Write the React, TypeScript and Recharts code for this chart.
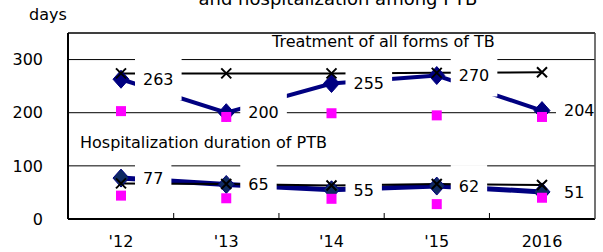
import { CartesianGrid, LabelList, Line, LineChart, XAxis, YAxis } from 'recharts'

const years = ["'12", "'13", "'14", "'15", '2016']
const treatAll = [263, 200, 255, 270, 204]
const treatAllRef = [274, 274, 274, 275, 276]
const treatAllPink = [203, 192, 199, 195, 192]
const hospPtb = [77, 65, 55, 62, 51]
const hospPtbRef = [67, 66, 63, 66, 64]
const hospPtbPink = [44, 39, 38, 28, 40]
const yTicks = [0, 100, 200, 300]

const data = years.map((year, i) => ({
  year,
  treatAll: treatAll[i],
  treatAllRef: treatAllRef[i],
  treatAllPink: treatAllPink[i],
  hospPtb: hospPtb[i],
  hospPtbRef: hospPtbRef[i],
  hospPtbPink: hospPtbPink[i],
}))

const FONT = '"DejaVu Sans", Verdana, sans-serif'
const STEP = 105.4

function Diamond(fill: string) {
  return (props: any) => {
    const { cx, cy, index } = props
    if (cx == null || cy == null) return <g key={index} />
    return (
      <polygon
        key={index}
        points={`${cx},${cy - 9} ${cx + 8},${cy} ${cx},${cy + 9} ${cx - 8},${cy}`}
        fill={fill}
        stroke="#000080"
        strokeWidth={1}
      />
    )
  }
}

function Cross(props: any) {
  const { cx, cy, index } = props
  if (cx == null || cy == null) return <g key={index} />
  return (
    <path
      key={index}
      d={`M${cx - 5},${cy - 5}L${cx + 5},${cy + 5}M${cx + 5},${cy - 5}L${cx - 5},${cy + 5}`}
      stroke="#000"
      strokeWidth={2}
      fill="none"
    />
  )
}

function Square(props: any) {
  const { cx, cy, index } = props
  if (cx == null || cy == null) return <g key={index} />
  return <rect key={index} x={cx - 5} y={cy - 5} width={10} height={10} fill="#ff00ff" />
}

function BoxLabel(props: any) {
  const x = props.viewBox?.x ?? props.x
  const y = props.viewBox?.y ?? props.y
  const text = String(props.value)
  const w = text.length * 10.2 + 16
  return (
    <g>
      <rect x={x + 14} y={y - 21} width={w} height={42} fill="#fff" />
      <text x={x + 22} y={y} dy="0.36em" fontSize={16} fontFamily={FONT} fill="#000">
        {text}
      </text>
    </g>
  )
}

function XTick(props: any) {
  const { x, y, payload, index } = props
  return (
    <g>
      {index < years.length - 1 && (
        <line x1={x + STEP / 2} x2={x + STEP / 2} y1={y - 6} y2={y} stroke="#000" strokeWidth={1} />
      )}
      <text x={x} y={y + 28} textAnchor="middle" fontSize={16} fontFamily={FONT} fill="#000">
        {payload.value}
      </text>
    </g>
  )
}

function YTick(props: any) {
  const { x, y, payload } = props
  return (
    <text x={x - 25} y={y} dy="0.36em" textAnchor="end" fontSize={16} fontFamily={FONT} fill="#000">
      {payload.value}
    </text>
  )
}

export default function App() {
  return (
    <div style={{ position: 'absolute', left: 0, top: 0, width: 603, height: 252, background: '#fff', fontFamily: FONT }}>
      <LineChart width={603} height={252} data={data} margin={{ top: 33, right: 8, left: 0, bottom: 0 }}>
        <CartesianGrid vertical={false} stroke="#000" strokeWidth={1} />
        <XAxis
          dataKey="year"
          height={33}
          padding={{ left: 53, right: 53 }}
          axisLine={{ stroke: '#000', strokeWidth: 2 }}
          tickLine={false}
          tickSize={0}
          tickMargin={0}
          tick={XTick}
          interval={0}
        />
        <YAxis
          width={68}
          domain={[0, 350]}
          ticks={yTicks}
          axisLine={{ stroke: '#000', strokeWidth: 2 }}
          tickLine={false}
          tickSize={0}
          tickMargin={0}
          tick={YTick}
          interval={0}
        />
        <Line dataKey="treatAll" stroke="#000080" strokeWidth={4} dot={Diamond('#000080')} activeDot={false} isAnimationActive={false} />
        <Line dataKey="hospPtb" stroke="#000080" strokeWidth={5} dot={Diamond('#0f2b62')} activeDot={false} isAnimationActive={false} />
        <Line dataKey="treatAllRef" stroke="#000" strokeWidth={2} dot={Cross} activeDot={false} isAnimationActive={false} />
        <Line dataKey="hospPtbRef" stroke="#000" strokeWidth={2} dot={Cross} activeDot={false} isAnimationActive={false} />
        <Line dataKey="treatAllPink" stroke="none" dot={Square} activeDot={false} isAnimationActive={false} />
        <Line dataKey="hospPtbPink" stroke="none" dot={Square} activeDot={false} isAnimationActive={false} />
        <Line dataKey="treatAll" stroke="none" dot={false} activeDot={false} isAnimationActive={false}>
          <LabelList dataKey="treatAll" content={BoxLabel} />
        </Line>
        <Line dataKey="hospPtb" stroke="none" dot={false} activeDot={false} isAnimationActive={false}>
          <LabelList dataKey="hospPtb" content={BoxLabel} />
        </Line>
      </LineChart>
      <svg width={603} height={252} style={{ position: 'absolute', left: 0, top: 0, pointerEvents: 'none' }}>
        <line x1={68} x2={595} y1={33} y2={33} stroke="#000" strokeWidth={1} />
        <line x1={595} x2={595} y1={33} y2={219} stroke="#444" strokeWidth={1.5} />
        <text x={338} y={5} textAnchor="middle" fontSize={18} fontFamily={FONT} fill="#000">
          and hospitalization among PTB
        </text>
        <text x={29} y={20} fontSize={16} fontFamily={FONT} fill="#000">days</text>
        <text x={272} y={47} fontSize={16} fontFamily={FONT} fill="#000">Treatment of all forms of TB</text>
        <text x={80} y={148} fontSize={16} fontFamily={FONT} fill="#000">Hospitalization duration of PTB</text>
      </svg>
    </div>
  )
}
